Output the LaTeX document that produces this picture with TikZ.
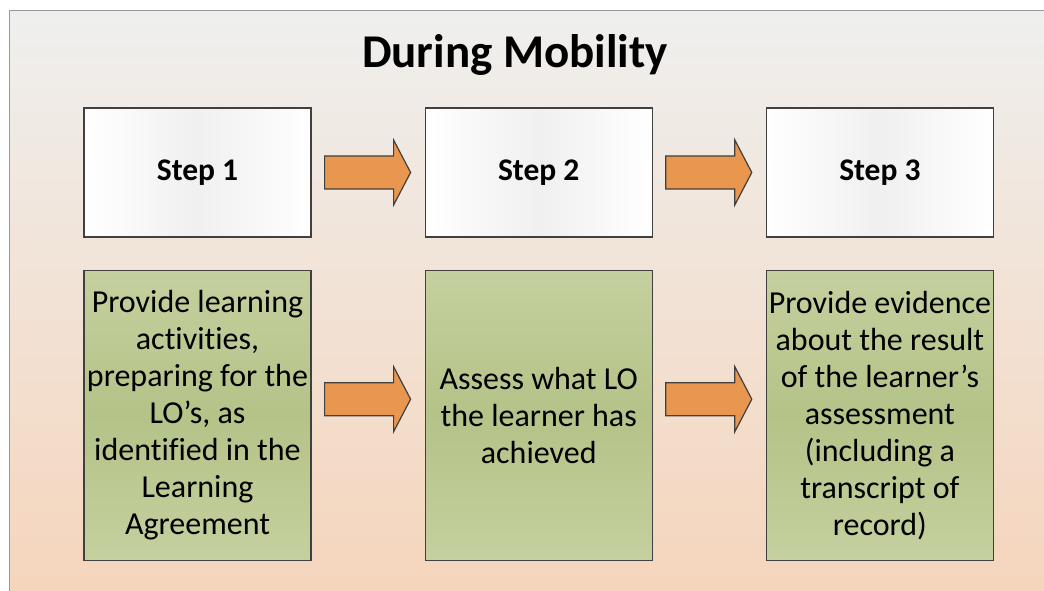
\documentclass[tikz,border=0pt]{standalone}
\usepackage{fontspec}
\setmainfont{Carlito}[Ligatures=NoCommon]
\usetikzlibrary{positioning}
\usetikzlibrary{calc}

\definecolor{bgtop}{RGB}{239,239,238}
\definecolor{bgbot}{RGB}{245,213,188}
\definecolor{greenmid}{RGB}{180,195,136}
\definecolor{greenedge}{RGB}{196,208,158}
\definecolor{arrowfill}{RGB}{233,151,78}
\definecolor{edgegray}{RGB}{64,64,64}

\tikzset{
  stepbox/.style={draw=edgegray, line width=1.2pt, left color=white, right color=white, middle color=gray!12,
    minimum width=227pt, minimum height=129pt, inner sep=0pt, font=\fontsize{31.5}{36}\selectfont\bfseries},
  taskbox/.style={draw=edgegray, line width=1.2pt, top color=greenedge, bottom color=greenedge, middle color=greenmid,
    minimum width=227pt, minimum height=290pt, inner sep=0pt, align=center, font=\fontsize{32}{37}\selectfont},
  flowarrow/.style={draw=edgegray, line width=1.2pt, fill=arrowfill, line join=miter},
}

% block arrow between two boxes: from, to, vertical offset
\newcommand{\flow}[3]{%
  \coordinate (f) at ([yshift=#3]#1.east);
  \coordinate (t) at ([yshift=#3]#2.west);
  \draw[flowarrow] ([shift={(13pt,16.5pt)}]f) -- ([shift={(-31pt,16.5pt)}]t)
    -- ([shift={(-31pt,32.5pt)}]t) -- ([xshift=-14pt]t)
    -- ([shift={(-31pt,-32.5pt)}]t) -- ([shift={(-31pt,-16.5pt)}]t)
    -- ([shift={(13pt,-16.5pt)}]f) -- cycle;}

\begin{document}
\begin{tikzpicture}[x=1pt,y=1pt]
        \useasboundingbox (0,0) rectangle (1044,-591);
        % Background
        \shade[top color=bgtop, bottom color=bgbot] (9,-11) rectangle (1044,-591);
        \draw[gray!80, line width=1pt] (9,-591) -- (9,-11) -- (1044,-11);
        \node[anchor=base, font=\fontsize{47}{56}\selectfont\bfseries] (title) at (515,-68) {During Mobility};
        % Nodes
        \node[stepbox] (s1) at (197.5,-172.5) {Step 1};
        \node[stepbox, right=113pt of s1] (s2) {Step 2};
        \node[stepbox, right=113pt of s2] (s3) {Step 3};
        \node[taskbox, below=32pt of s1] (g1) {Provide learning\\activities,\\preparing for the\\LO’s, as\\identified in the\\Learning\\Agreement};
        \node[taskbox, below=32pt of s2] (g2) {Assess what LO\\the learner has\\achieved};
        \node[taskbox, below=32pt of s3] (g3) {Provide evidence\\about the result\\of the learner’s\\assessment\\(including a\\transcript of\\record)};
        % Arrows
        \flow{s1}{s2}{0pt}
        \flow{s2}{s3}{0pt}
        \flow{g1}{g2}{16pt}
        \flow{g2}{g3}{16pt}
    \end{tikzpicture}
\end{document}
